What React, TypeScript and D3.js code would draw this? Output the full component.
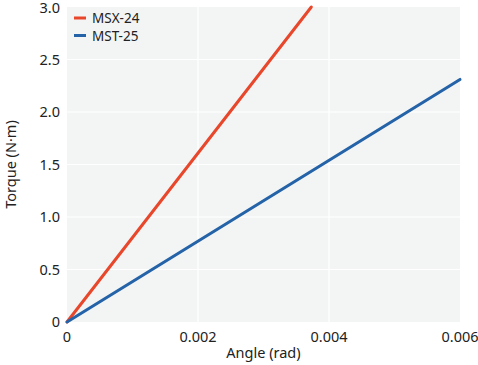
import { scaleLinear, line } from 'd3';

const W = 478;
const H = 365;
const M = { left: 67, right: 18, top: 7, bottom: 43 };
const FONT = '"Noto Sans", sans-serif';
const FS = 14.5;

const seriesNames = ['MSX-24', 'MST-25'];
const seriesColors = ['#e8472b', '#2463a8'];
const msxAngle = [0, 0.00373];
const msxTorque = [0, 3.0];
const mstAngle = [0, 0.006];
const mstTorque = [0, 2.31];
const xTicks = [0, 0.002, 0.004, 0.006];
const xTickLabels = ['0', '0.002', '0.004', '0.006'];
const yTicks = [0, 0.5, 1.0, 1.5, 2.0, 2.5, 3.0];
const yTickLabels = ['0', '0.5', '1.0', '1.5', '2.0', '2.5', '3.0'];

type Pt = [number, number];

export default function App() {
  const x = scaleLinear().domain([0, 0.006]).range([M.left, W - M.right]);
  const y = scaleLinear().domain([0, 3]).range([H - M.bottom, M.top]);
  const gen = line<Pt>().x(d => x(d[0])).y(d => y(d[1]));

  const series: Pt[][] = [
    msxAngle.map((a, i) => [a, msxTorque[i]] as Pt),
    mstAngle.map((a, i) => [a, mstTorque[i]] as Pt),
  ];

  return (
    <svg width={W} height={H} style={{ position: 'absolute', left: 0, top: 0 }} fontFamily={FONT}>
      <rect x={x(0)} y={y(3)} width={x(0.006) - x(0)} height={y(0) - y(3)} fill="#f3f4f4" />
      {xTicks.slice(1, -1).map(t => (
        <line key={t} x1={x(t)} x2={x(t)} y1={y(0)} y2={y(3)} stroke="#fff" strokeWidth={1.2} />
      ))}
      {yTicks.slice(1, -1).map(t => (
        <line key={t} x1={x(0)} x2={x(0.006)} y1={y(t)} y2={y(t)} stroke="#fff" strokeWidth={1.2} />
      ))}
      {series.map((s, i) => (
        <path key={i} d={gen(s) ?? ''} fill="none" stroke={seriesColors[i]} strokeWidth={3} strokeLinecap="round" />
      ))}
      {xTicks.map((t, i) => (
        <text key={t} x={x(t)} y={y(0) + 20} textAnchor="middle" fontSize={FS} fill="#222">
          {xTickLabels[i]}
        </text>
      ))}
      {yTicks.map((t, i) => (
        <text key={t} x={x(0) - 7} y={Math.max(y(t) + 5, 13)} textAnchor="end" fontSize={FS} fill="#222">
          {yTickLabels[i]}
        </text>
      ))}
      <text x={(x(0) + x(0.006)) / 2} y={H - 7} textAnchor="middle" fontSize={FS} fill="#222">
        Angle (rad)
      </text>
      <text transform={`translate(16,${(y(0) + y(3)) / 2}) rotate(-90)`} textAnchor="middle" fontSize={FS} fill="#222">
        Torque (N·m)
      </text>
      {seriesNames.map((n, i) => (
        <g key={n} transform={`translate(${x(0) + 7},${y(3) + 11 + i * 17.5})`}>
          <line x1={0} x2={12} y1={0} y2={0} stroke={seriesColors[i]} strokeWidth={3} />
          <text x={18} y={5} fontSize={13.5} fill="#222">{n}</text>
        </g>
      ))}
    </svg>
  );
}
